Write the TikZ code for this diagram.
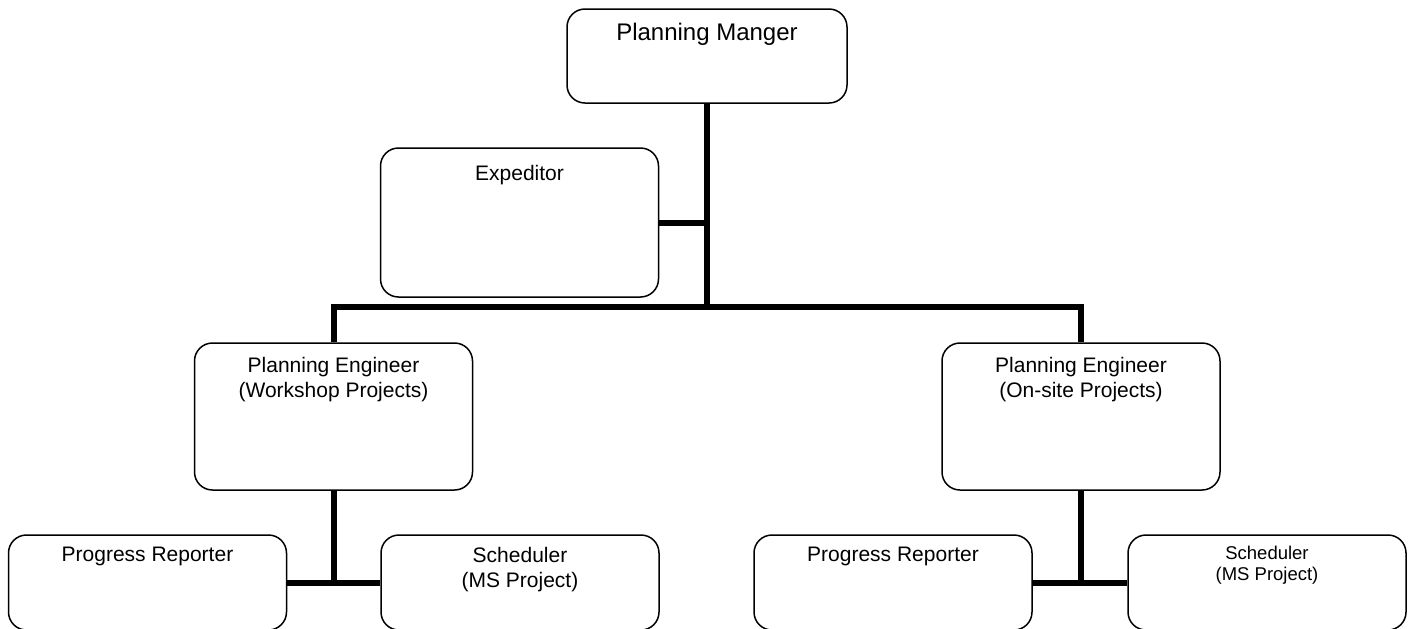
\documentclass[tikz,border=0pt]{standalone}
\usepackage{fontspec}
\setmainfont{Liberation Sans}
\usetikzlibrary{positioning}

\tikzset{
  post/.style={draw, line width=0.75pt, rounded corners=9pt, minimum width=139pt, inner sep=0pt},
  conn/.style={line width=3pt},
  txt/.style={align=center, font=\fontsize{10.5}{12.5}\selectfont},
}

\begin{document}
\begin{tikzpicture}[x=0.5pt,y=-0.5pt]
  \useasboundingbox (0,0) rectangle (1412,628);

  % boxes
  \node (pm)  [post, minimum width=140pt, minimum height=47pt] at (707,56) {};
  \node (ex)  [post, minimum height=74.5pt] at (519.5,222.5) {};
  \node (pew) [post, minimum height=73.5pt] at (333.5,416.5) {};
  \node (peo) [post, minimum height=73.5pt] at (1081,416.5) {};
  \node (prw) [post, minimum height=47.5pt] at (147.5,582.5) {};
  \node (scw) [post, minimum height=47.5pt] at (520,582.5) {};
  \node (pro) [post, minimum height=47.5pt] at (893,582.5) {};
  \node (sco) [post, minimum height=47.5pt] at (1267,582.5) {};

  % connectors
  \coordinate (bar) at (707,307);
  \draw[conn] (pm.south) -- (bar);
  \draw[conn] (ex.east) -- (ex.east -| pm.south);
  \draw[conn] (pew.north) |- (bar) -| (peo.north);
  \draw[conn] (pew.south) -- (pew.south |- prw.east);
  \draw[conn] (prw.east) -- (scw.west);
  \draw[conn] (peo.south) -- (peo.south |- pro.east);
  \draw[conn] (pro.east) -- (sco.west);

  % texts
  \node (pmt) at (pm.north) [below=4pt, font=\fontsize{12}{14}\selectfont] {Planning Manger};
  \node (ext) at (ex.north) [below=5.4pt, txt] {Expeditor};
  \node (pewt) at (pew.north) [below=4pt, txt] {Planning Engineer\\(Workshop Projects)};
  \node (peot) at (peo.north) [below=4pt, txt] {Planning Engineer\\(On-site Projects)};
  \node (prwt) at (prw.north) [below=3pt, txt] {Progress Reporter};
  \node (scwt) at (scw.north) [below=3pt, txt] {Scheduler\\(MS Project)};
  \node (prot) at (pro.north) [below=3pt, txt] {Progress Reporter};
  \node (scot) at (sco.north) [below=2.6pt, align=center, font=\fontsize{9.25}{10.5}\selectfont] {Scheduler\\(MS Project)};
\end{tikzpicture}
\end{document}
